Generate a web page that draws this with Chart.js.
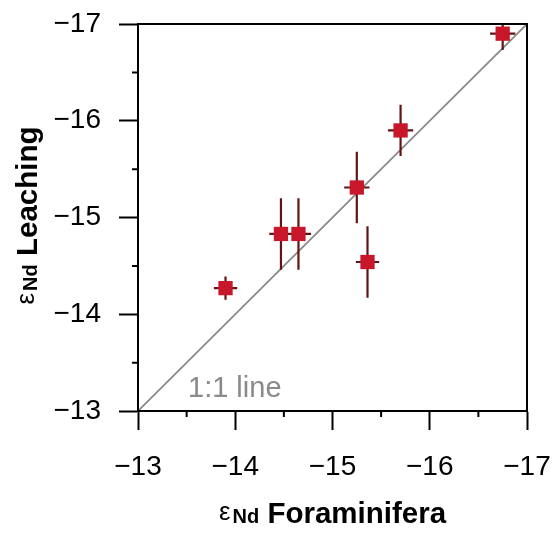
<!DOCTYPE html>
<html>
<head>
<meta charset="utf-8">
<script src="https://cdn.jsdelivr.net/npm/chart.js@4/dist/chart.umd.min.js"></script>
<style>
html,body{margin:0;padding:0;background:#fff;}
#wrap{width:553px;height:534px;}
</style>
</head>
<body>
<div id="wrap"><canvas id="c" width="553" height="534"></canvas></div>
<script>
// ---- data ----
const foraminifera    = [-13.90, -14.47, -14.65, -15.25, -15.36, -15.70, -16.75];
const leaching        = [-14.27, -14.83, -14.83, -15.31, -14.54, -15.90, -16.90];
const foraminiferaErr = [0.12, 0.12, 0.13, 0.13, 0.12, 0.13, 0.13];
const leachingErr     = [0.12, 0.37, 0.37, 0.37, 0.37, 0.265, 0.17];
const oneToOne        = [-13, -17];
const axisMin = -17, axisMax = -13, axisStep = 1;
const xTitleText = 'Foraminifera';
const yTitleText = 'Leaching';
const epsSymbol = 'ε', epsSub = 'Nd';
const lineLabel = '1:1 line';

const FONT = '"Liberation Sans", Arial, Helvetica, sans-serif';

function fmt(v){ return v < 0 ? '\u2212' + Math.abs(v) : String(v); }

function drawTitle(ctx, x, y, main){
  const parts = [
    {t: epsSymbol, f: '26px ' + FONT, dy: -3},
    {t: epsSub, f: 'bold 20px ' + FONT, dy: 0},
    {t: ' ' + main, f: 'bold 29.5px ' + FONT, dy: 0}
  ];
  let w = 0;
  parts.forEach(p => { ctx.font = p.f; p.w = ctx.measureText(p.t).width; w += p.w; });
  w += 2;
  let cx = x - w / 2;
  ctx.textAlign = 'left';
  ctx.textBaseline = 'alphabetic';
  parts.forEach((p, i) => {
    ctx.font = p.f;
    ctx.fillText(p.t, cx, y + p.dy);
    cx += p.w + (i === 0 ? 2 : 0);
  });
}

const decor = {
  id: 'decor',
  beforeDatasetDraw(chart, args){
    if (args.index !== 0) return;
    const ctx = chart.ctx, xs = chart.scales.x, ys = chart.scales.y, ca = chart.chartArea;
    ctx.save();
    ctx.beginPath();
    ctx.rect(ca.left, ca.top, ca.right - ca.left, ca.bottom - ca.top);
    ctx.clip();
    ctx.strokeStyle = '#641414';
    ctx.lineWidth = 2.2;
    ctx.beginPath();
    for (let i = 0; i < foraminifera.length; i++){
      const px = xs.getPixelForValue(foraminifera[i]);
      const py = ys.getPixelForValue(leaching[i]);
      ctx.moveTo(xs.getPixelForValue(foraminifera[i] - foraminiferaErr[i]), py);
      ctx.lineTo(xs.getPixelForValue(foraminifera[i] + foraminiferaErr[i]), py);
      ctx.moveTo(px, ys.getPixelForValue(leaching[i] - leachingErr[i]));
      ctx.lineTo(px, ys.getPixelForValue(leaching[i] + leachingErr[i]));
    }
    ctx.stroke();
    ctx.restore();
  },
  afterDraw(chart){
    const ctx = chart.ctx, xs = chart.scales.x, ys = chart.scales.y, ca = chart.chartArea;
    ctx.save();
    // frame
    ctx.strokeStyle = '#000';
    ctx.lineWidth = 2;
    ctx.strokeRect(ca.left, ca.top, ca.right - ca.left, ca.bottom - ca.top);
    // minor ticks
    const xv = xs.ticks.map(t => t.value).sort((a, b) => a - b);
    const yv = ys.ticks.map(t => t.value).sort((a, b) => a - b);
    ctx.beginPath();
    for (let i = 0; i < xv.length - 1; i++){
      const p = xs.getPixelForValue((xv[i] + xv[i + 1]) / 2);
      ctx.moveTo(p, ca.bottom); ctx.lineTo(p, ca.bottom + 6);
    }
    for (let i = 0; i < yv.length - 1; i++){
      const p = ys.getPixelForValue((yv[i] + yv[i + 1]) / 2);
      ctx.moveTo(ca.left, p); ctx.lineTo(ca.left - 6, p);
    }
    ctx.stroke();
    // 1:1 label
    ctx.fillStyle = '#8a8a8a';
    ctx.font = '29px ' + FONT;
    ctx.textAlign = 'left';
    ctx.textBaseline = 'alphabetic';
    ctx.fillText(lineLabel, ca.left + 50, ca.bottom - 14);
    // titles
    ctx.fillStyle = '#000';
    drawTitle(ctx, (ca.left + ca.right) / 2, ca.bottom + 112, xTitleText);
    ctx.save();
    ctx.translate(37, (ca.top + ca.bottom) / 2 - 2);
    ctx.rotate(-Math.PI / 2);
    drawTitle(ctx, 0, 0, yTitleText);
    ctx.restore();
    ctx.restore();
  }
};

const axisCommon = {
  type: 'linear',
  min: axisMin,
  max: axisMax,
  reverse: true,
  ticks: {
    stepSize: axisStep,
    color: '#000',
    font: {family: FONT, size: 28},
    callback: v => fmt(v)
  },
  grid: {
    display: true,
    drawOnChartArea: false,
    drawTicks: true,
    tickLength: 19,
    tickWidth: 2,
    tickColor: '#000'
  },
  border: {display: true, color: '#000', width: 2},
  title: {display: false}
};

function noPad(s){ s.paddingTop = 0; s.paddingBottom = 0; s.paddingLeft = 0; s.paddingRight = 0; }

new Chart(document.getElementById('c'), {
  type: 'scatter',
  data: {
    datasets: [
      {
        label: 'samples',
        data: foraminifera.map((v, i) => ({x: v, y: leaching[i]})),
        backgroundColor: '#c8172b',
        borderWidth: 0,
        pointStyle: 'rect',
        pointRadius: 10.1,
        pointHoverRadius: 10.1,
        order: 0
      },
      {
        label: '1:1 line',
        data: oneToOne.map(v => ({x: v, y: v})),
        showLine: true,
        borderColor: '#8a8a8a',
        borderWidth: 1.8,
        pointRadius: 0,
        fill: false,
        order: 1
      }
    ]
  },
  options: {
    responsive: false,
    animation: false,
    devicePixelRatio: 1,
    layout: {padding: {left: 0, right: 26, top: 24, bottom: 0}},
    plugins: {legend: {display: false}, tooltip: {enabled: false}},
    scales: {
      x: Object.assign({}, axisCommon, {
        position: 'bottom',
        ticks: Object.assign({}, axisCommon.ticks, {padding: 20, maxRotation: 0}),
        afterFit: s => { s.height = 123; noPad(s); }
      }),
      y: Object.assign({}, axisCommon, {
        position: 'left',
        ticks: Object.assign({}, axisCommon.ticks, {padding: 18}),
        afterFit: s => { s.width = 138; noPad(s); }
      })
    }
  },
  plugins: [decor]
});
</script>
</body>
</html>
